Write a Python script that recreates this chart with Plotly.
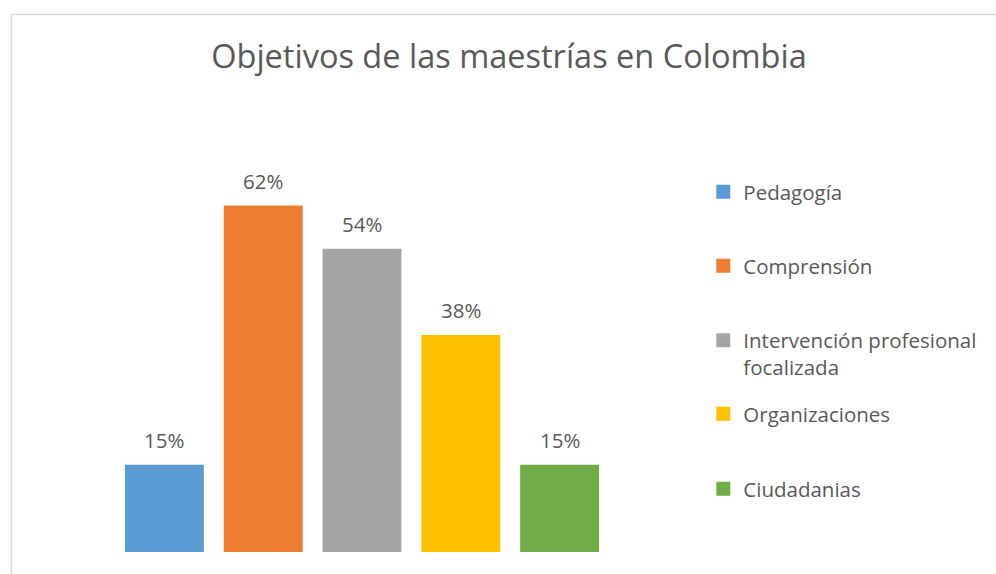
import plotly.graph_objects as go

# ---- data ----
categories = ["Pedagogía", "Comprensión", "Intervención profesional<br>focalizada",
              "Organizaciones", "Ciudadanias"]
values = [0.1538, 0.6154, 0.5385, 0.3846, 0.1538]
colors = ["#5B9BD5", "#ED7D31", "#A5A5A5", "#FFC000", "#70AD47"]
title_text = "Objetivos de las maestrías en Colombia"

# ---- layout geometry (pixels) ----
W, H = 996, 574
PL, PR = 114.5, 609.5          # plot area left/right
PT, PB = 159, 552              # plot area top/bottom
YMAX = 0.70

def px_x(px):
    return (px - PL) / (PR - PL)

def px_y(py):
    return (PB - py) / (PB - PT)

FONT = "Open Sans"
TXT = "#595959"

fig = go.Figure()
legend_names = ["legend", "legend2", "legend3", "legend4", "legend5"]
for i, (cat, v, c) in enumerate(zip(categories, values, colors)):
    fig.add_trace(go.Bar(
        x=[i], y=[v], name=cat, width=0.778,
        marker=dict(color=c, line=dict(color=c, width=2)),
        legend=legend_names[i], hoverinfo="skip",
    ))
    fig.add_annotation(
        x=i, y=v, text=f"{v:.0%}", showarrow=False, yanchor="bottom",
        yshift=10, font=dict(family=FONT, size=20.5, color=TXT),
    )

legend_y_px = [192, 266, 354, 414, 489]
legend_common = dict(
    font=dict(family=FONT, size=20.5, color=TXT), bgcolor="rgba(0,0,0,0)",
    xanchor="left", yanchor="middle", valign="top", itemclick=False,
)
layout_legends = {}
for i, name in enumerate(legend_names):
    layout_legends[name] = dict(x=px_x(704), y=px_y(legend_y_px[i]), **legend_common)

fig.update_layout(
    width=W, height=H,
    margin=dict(l=PL, r=W - PR, t=PT, b=H - PB, pad=0),
    paper_bgcolor="white", plot_bgcolor="white",
    barmode="overlay", showlegend=True,
    title=dict(text=title_text, x=509 / W, xref="container", xanchor="center",
               y=1 - 57 / H, yref="container", yanchor="middle",
               font=dict(family=FONT, size=32.5, color=TXT)),
    xaxis=dict(range=[-0.5, len(categories) - 0.5], visible=False, fixedrange=True),
    yaxis=dict(range=[0, YMAX], visible=False, fixedrange=True),
    **layout_legends,
)

# chart border (cropped at right and bottom, as in the reference)
fig.add_shape(type="rect", xref="paper", yref="paper",
              x0=px_x(10.5), x1=px_x(1020), y0=px_y(600), y1=px_y(14.5),
              line=dict(color="#D9D9D9", width=1.5), fillcolor="rgba(0,0,0,0)", layer="below")

fig.write_html(
    "out.html",
    config={"displayModeBar": False},
    post_script="document.body.style.margin='0';document.body.style.overflow='hidden';",
)
